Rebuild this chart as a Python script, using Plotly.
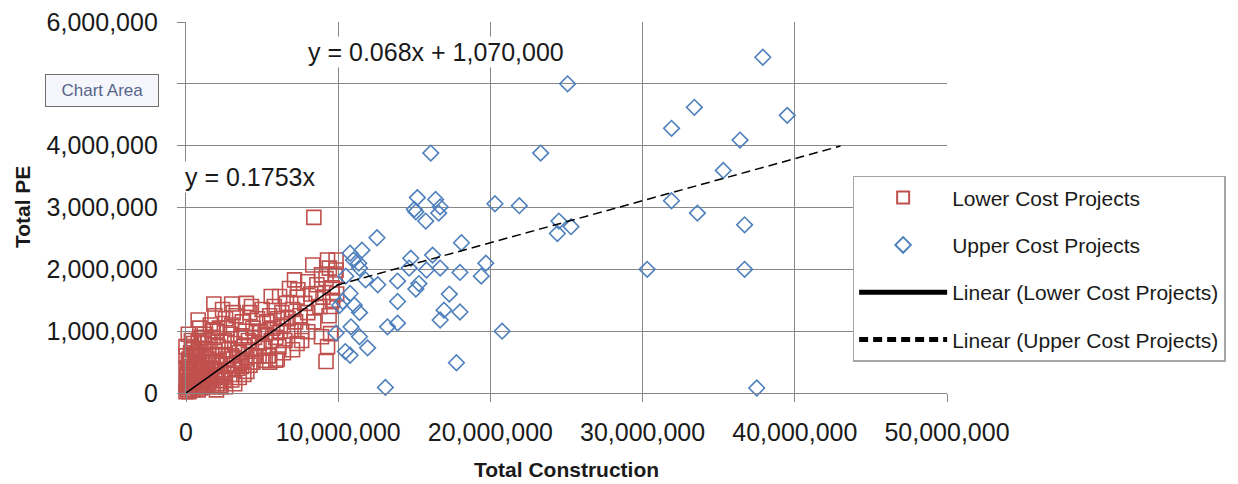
import plotly.graph_objects as go

# ---- data (values in millions) ----
lower_x_m = [0.0, 0.05, 0.1, 0.15, 0.2, 0.25, 0.3, 0.35, 0.4, 0.45, 0.5, 0.55, 0.6, 0.65, 0.7, 0.75, 0.8, 0.85, 0.9, 0.95,
             1.0, 1.05, 1.1, 1.15, 1.2, 1.25, 1.3, 1.35, 1.4, 1.45,
             0.1, 0.2, 0.3, 0.05, 0.15, 0.4, 0.6, 0.5, 0.8, 0.7, 0.0, 0.8, 1.2, 1.6, 1.9, 2.4, 0.9,
             1.5, 1.6, 1.7, 1.8, 1.9, 2.0, 2.1, 2.2, 2.3, 2.4, 2.5, 2.6, 2.7, 2.8, 2.9, 3.0, 3.1, 3.2, 3.3, 3.4,
             3.5, 3.6, 3.7, 3.8, 3.9, 4.0, 4.1, 4.2, 4.3, 4.4, 4.5, 4.6, 4.7, 4.8, 4.9, 5.0, 5.1, 5.2, 5.3, 5.4,
             5.5, 5.6, 5.7, 5.8, 5.9, 6.0, 6.1, 6.2, 6.3, 6.4, 6.5, 6.6, 6.7, 6.9, 7.0, 7.2, 7.3, 7.5, 7.6, 7.8,
             8.0, 8.2, 8.4, 8.6, 8.8, 9.0, 9.2, 9.4, 9.6, 9.8, 9.9,
             2.0, 2.5, 1.8, 2.2, 3.0, 3.5, 5.5, 6.0, 6.4, 7.3, 7.6,
             8.4, 9.3, 9.86, 8.33, 9.42, 9.86, 8.9, 8.0, 7.13, 6.8, 7.35, 8.55, 9.64, 9.5,
             1.83, 3.0, 3.97, 4.3, 5.6, 6.15,
             9.2, 9.3, 8.9, 8.0, 9.5, 7.0, 5.9, 5.2, 4.2, 3.65, 3.0, 2.3,
             0.0, 0.1, 0.2, 0.3, 0.4, 0.5, 0.6, 0.7, 0.8, 0.9, 1.0, 1.1, 1.2, 1.3, 1.4, 1.5, 1.6, 1.7, 1.8, 1.9,
             2.0, 2.2, 2.4, 2.6, 2.8, 3.0, 3.2, 3.4, 3.6, 0.25, 0.55, 0.85, 1.15, 1.45, 1.75, 2.05, 0.35, 0.0, 0.0,
             0.15, 2.7, 3.1, 1.0, 4.0, 4.4, 4.8, 2.1, 2.6, 3.2, 3.8]
lower_y_m = [0.02, 0.1, 0.05, 0.2, 0.12, 0.3, 0.08, 0.18, 0.25, 0.05, 0.35, 0.15, 0.22, 0.45, 0.1, 0.3, 0.18, 0.5, 0.25, 0.08,
             0.38, 0.6, 0.2, 0.3, 0.12, 0.45, 0.72, 0.25, 0.55, 0.35,
             0.4, 0.55, 0.65, 0.3, 0.5, 0.7, 0.6, 0.8, 0.85, 0.65, 0.6, 1.18, 0.95, 1.1, 1.25, 1.35, 1.05,
             0.15, 0.4, 0.62, 0.9, 0.28, 0.5, 0.75, 1.05, 0.35, 0.6, 0.85, 1.2, 0.45, 0.7, 0.95, 1.1, 0.55, 0.8, 1.25, 0.4,
             0.65, 0.9, 1.15, 0.75, 1.0, 0.55, 0.85, 1.3, 0.7, 1.05, 0.9, 0.6, 1.2, 0.8, 1.0, 1.35, 0.75, 0.95, 1.15, 0.6,
             1.25, 0.85, 1.05, 1.4, 0.9, 1.2, 0.75, 1.0, 1.3, 1.1, 0.85, 1.45, 1.2, 1.0, 1.35, 1.15, 1.55, 1.25, 1.0, 1.45,
             1.3, 1.6, 1.15, 1.75, 1.4, 1.55, 1.85, 1.25, 1.7, 1.9, 1.6,
             0.05, 0.2, 0.1, 0.12, 0.3, 0.25, 0.5, 0.55, 0.65, 0.8, 0.85,
             2.84, 2.15, 2.15, 2.07, 2.02, 1.99, 1.91, 1.80, 1.83, 1.69, 1.67, 1.61, 1.5, 1.40,
             1.44, 1.44, 1.45, 1.40, 1.56, 1.56,
             0.51, 0.75, 0.91, 0.99, 0.96, 0.70, 0.53, 0.53, 0.45, 0.43, 0.21, 0.10,
             0.15, 0.25, 0.02, 0.35, 0.12, 0.2, 0.4, 0.3, 0.05, 0.42, 0.15, 0.5, 0.28, 0.4, 0.1, 0.6, 0.22, 0.35, 0.5, 0.7,
             0.3, 0.45, 0.25, 0.55, 0.38, 0.6, 0.45, 0.7, 0.5, 0.48, 0.62, 0.7, 0.8, 0.85, 1.0, 1.0, 0.85, 0.4, 0.75,
             0.95, 1.05, 1.3, 0.9, 0.35, 0.5, 0.6, 0.15, 0.1, 0.15, 0.3]

upper_x_m = [25.07, 16.08, 23.3, 15.2, 16.4, 15.0, 15.1, 15.75, 16.7, 16.6, 20.3, 21.9, 24.5, 24.4, 25.3,
             12.55, 10.78, 11.56, 11.35, 11.4, 10.5, 11.8, 12.6, 14.77, 16.2, 18.1, 19.7, 19.4, 15.8, 16.7,
             18.0, 13.9, 14.66, 15.3, 15.1, 17.3, 13.9, 10.78, 10.3, 11.06, 11.4, 16.95, 16.7, 18.0, 13.24,
             13.9, 9.86, 10.84, 11.4, 11.93, 10.47, 10.78, 20.77, 17.77, 13.1,
             37.9, 33.4, 31.9, 39.5, 36.4, 35.3, 31.9, 33.6, 36.7, 30.3, 36.7, 37.5, 10.1, 11.0]
upper_y_m = [5.0, 3.88, 3.88, 3.16, 3.13, 2.97, 2.93, 2.78, 3.01, 2.91, 3.06, 3.03, 2.78, 2.58, 2.69,
             2.51, 2.26, 2.31, 2.10, 2.02, 1.89, 1.83, 1.75, 2.18, 2.23, 2.43, 2.10, 1.89, 1.99, 2.02,
             1.95, 1.81, 2.02, 1.77, 1.68, 1.60, 1.48, 1.61, 1.48, 1.42, 1.30, 1.34, 1.18, 1.31, 1.07,
             1.13, 0.97, 1.07, 0.91, 0.73, 0.67, 0.61, 1.0, 0.49, 0.09,
             5.43, 4.62, 4.28, 4.49, 4.09, 3.60, 3.11, 2.91, 2.72, 2.0, 2.0, 0.08, 1.42, 2.15]

# trend line equations (as shown on the chart)
lower_slope = 0.1753
upper_slope = 0.068
upper_intercept = 1070000
lower_line_x = [0, 10000000]
upper_line_x = [9900000, 43000000]

x_ticks = [0, 10000000, 20000000, 30000000, 40000000, 50000000]
y_ticks = [0, 1000000, 2000000, 3000000, 4000000, 5000000, 6000000]

M = 1e6
RED = "#C0504D"
BLUE = "#4F81BD"
GRID = "#878787"
FONT = "Liberation Sans"
TXT = "#1a1a1a"

fig = go.Figure()
fig.add_trace(go.Scatter(
    x=[v * M for v in lower_x_m], y=[v * M for v in lower_y_m], mode="markers",
    name="Lower Cost Projects", legendgroup="a", cliponaxis=False,
    marker=dict(symbol="square-open", size=14, color=RED, line=dict(width=1.6, color=RED)),
))
fig.add_trace(go.Scatter(
    x=[v * M for v in upper_x_m], y=[v * M for v in upper_y_m], mode="markers",
    name="Upper Cost Projects", legendgroup="b", cliponaxis=False,
    marker=dict(symbol="diamond-open", size=12, color=BLUE, line=dict(width=1.6, color=BLUE)),
))
fig.add_trace(go.Scatter(
    x=lower_line_x, y=[lower_slope * x for x in lower_line_x], mode="lines",
    name="Linear (Lower Cost Projects)", legendgroup="c",
    line=dict(color="#000000", width=1.5),
))
fig.add_trace(go.Scatter(
    x=upper_line_x, y=[upper_slope * x + upper_intercept for x in upper_line_x], mode="lines",
    name="Linear (Upper Cost Projects)", legendgroup="d",
    line=dict(color="#000000", width=1.5, dash="9px,5px"),
))

axis_common = dict(
    showgrid=True, gridcolor=GRID, gridwidth=1.4,
    showline=True, linecolor=GRID, linewidth=1.4,
    ticks="outside", ticklen=8, tickcolor=GRID, tickwidth=1.4,
    zeroline=False, tickformat=",d", automargin=False,
    tickfont=dict(family=FONT, size=25, color=TXT),
)

fig.update_layout(
    width=1238, height=484,
    margin=dict(l=186, r=288, t=22, b=91),
    paper_bgcolor="white", plot_bgcolor="white",
    font=dict(family=FONT, color=TXT),
    xaxis=dict(range=[0, 50000000], tickvals=x_ticks, ticklabelstandoff=9, **axis_common),
    yaxis=dict(range=[0, 6000000], tickvals=y_ticks, ticklabelstandoff=14, **axis_common),
    showlegend=True,
    legend=dict(
        x=0.876, y=0.585, xanchor="left", yanchor="top",
        bgcolor="white", bordercolor="#A6A6A6", borderwidth=1.5,
        font=dict(family=FONT, size=21, color=TXT),
        itemsizing="constant", itemwidth=88, tracegroupgap=17,
        traceorder="grouped",
    ),
    annotations=[
        dict(x=16.4 * M, y=5.52 * M, xref="x", yref="y", text="y = 0.068x + 1,070,000",
             showarrow=False, bgcolor="white", font=dict(family=FONT, size=25, color=TXT)),
        dict(x=4.2 * M, y=3.5 * M, xref="x", yref="y", text="y = 0.1753x",
             showarrow=False, bgcolor="white", font=dict(family=FONT, size=25, color=TXT)),
        dict(x=-0.2147, y=0.5, xref="paper", yref="paper", text="<b>Total PE</b>", textangle=-90,
             xanchor="center", yanchor="middle",
             showarrow=False, font=dict(family=FONT, size=21, color=TXT)),
        dict(x=0.5, y=-0.2075, xref="paper", yref="paper", text="<b>Total Construction</b>",
             xanchor="center", yanchor="middle",
             showarrow=False, font=dict(family=FONT, size=21, color=TXT)),
        dict(x=-0.1099, y=0.8167, xref="paper", yref="paper",
             text="&nbsp;&nbsp;Chart Area&nbsp;&nbsp;",
             xanchor="center", yanchor="middle",
             showarrow=False, bgcolor="#F4F6FB", bordercolor="#6E6E6E", borderwidth=1, borderpad=6,
             font=dict(family=FONT, size=17, color="#56658A")),
    ],
)

fig.write_html("out.html", config={"displayModeBar": False},
               post_script="document.body.style.margin='0';")
